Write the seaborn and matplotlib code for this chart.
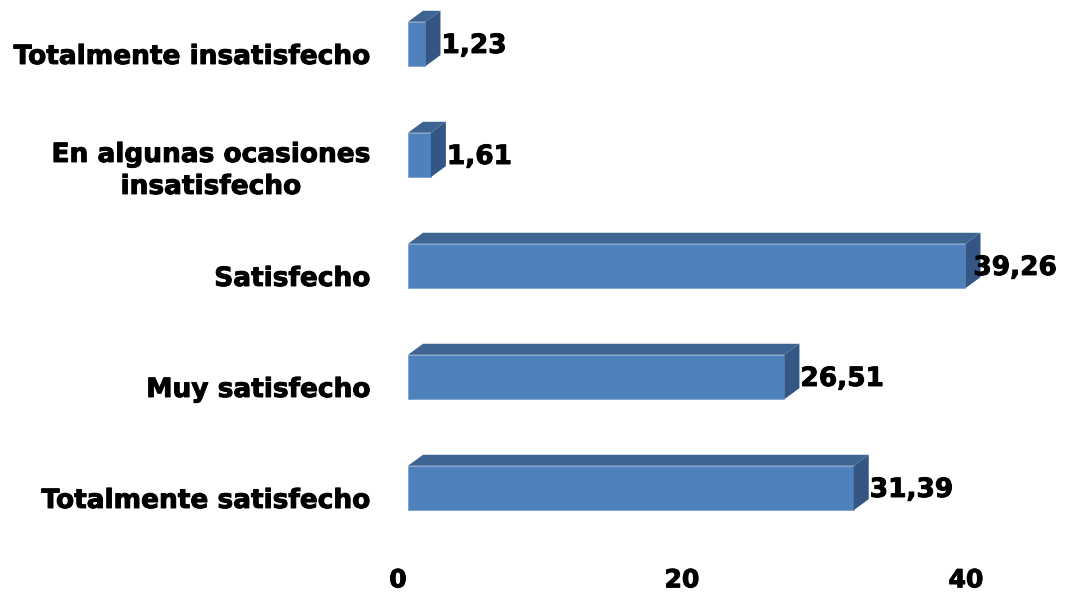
import pandas as pd
import matplotlib.pyplot as plt
import matplotlib.transforms as mtransforms
import matplotlib.patheffects as pe
from matplotlib.patches import Polygon
import seaborn as sns

# Datos
categorias = ['Totalmente insatisfecho', 'En algunas ocasiones\ninsatisfecho',
              'Satisfecho', 'Muy satisfecho', 'Totalmente satisfecho']
valores = [1.23, 1.61, 39.26, 26.51, 31.39]
etiquetas = ['1,23', '1,61', '39,26', '26,51', '31,39']
ticks_x = [0, 20, 40]

df = pd.DataFrame({'categoria': categorias, 'valor': valores})

sns.set_theme(style='white')
plt.rcParams['font.family'] = ['DejaVu Sans']
plt.rcParams['text.color'] = 'black'

fig = plt.figure(figsize=(10.66, 5.97), dpi=100)
W, H = 1066, 597
# ejes en pixeles: x desde 408 hasta 1033, y desde 5 hasta 560
ax = fig.add_axes([408 / W, (H - 560) / H, 625 / W, 555 / H])

frente = '#4F81BD'
arriba = '#3E6592'
lado = '#345684'
grueso = [pe.withStroke(linewidth=0.7, foreground='black')]

sns.barplot(data=df, x='valor', y='categoria', orient='h', color=frente,
            width=0.4, saturation=1, ax=ax, edgecolor='#7FA2CC', linewidth=0.6)

xmax = 625 / 14.2
ax.set_xlim(0, xmax)
ax.set_ylim(4.649, -0.351)

# profundidad 3D en unidades de datos
dx = 15 * xmax / 625
dy = 11 * 5.0 / 555
h = 0.2
textos = []
for i, v in enumerate(valores):
    top = [(0, i - h), (v, i - h), (v + dx, i - h - dy), (dx, i - h - dy)]
    side = [(v, i - h), (v + dx, i - h - dy), (v + dx, i + h - dy), (v, i + h)]
    ax.add_patch(Polygon(top, closed=True, facecolor=arriba, edgecolor='none', clip_on=False))
    ax.add_patch(Polygon(side, closed=True, facecolor=lado, edgecolor='none', clip_on=False))
    t = ax.annotate(etiquetas[i], xy=(v, i), xytext=(16 * 0.72, -2 * 0.72),
                    textcoords='offset points', ha='left', va='center',
                    fontsize=19, fontweight='bold', color='black',
                    annotation_clip=False, path_effects=grueso)
    textos.append(t)

ax.set_xticks(ticks_x)
ax.set_xticklabels([str(t) for t in ticks_x])
ax.set_xlabel('')
ax.set_ylabel('')
ax.tick_params(axis='x', length=0, pad=6, labelsize=18, labelcolor='black')
ax.tick_params(axis='y', length=0, pad=27, labelsize=19, labelcolor='black')
for lab in ax.get_xticklabels():
    lab.set_fontweight('bold')
    lab.set_path_effects(grueso)
    lab.set_transform(lab.get_transform() + mtransforms.ScaledTranslation(-0.1, 0, fig.dpi_scale_trans))
for lab in ax.get_yticklabels():
    lab.set_fontweight('bold')
    lab.set_path_effects(grueso)
    lab.set_multialignment('center')
    lab.set_linespacing(1.3)
    lab.set_transform(lab.get_transform() + mtransforms.ScaledTranslation(0, -0.1, fig.dpi_scale_trans))

sns.despine(ax=ax, left=True, bottom=True)
ax.grid(False)

# las etiquetas que no caben se corren hacia la izquierda (como en Excel)
fig.canvas.draw()
r = fig.canvas.get_renderer()
for t in textos:
    bb = t.get_window_extent(r)
    if bb.x1 > W - 9:
        ox, oy = t.xyann
        t.xyann = (ox - (bb.x1 - (W - 9)) * 0.72, oy)

fig.savefig('out.png', dpi=100, facecolor='white')
